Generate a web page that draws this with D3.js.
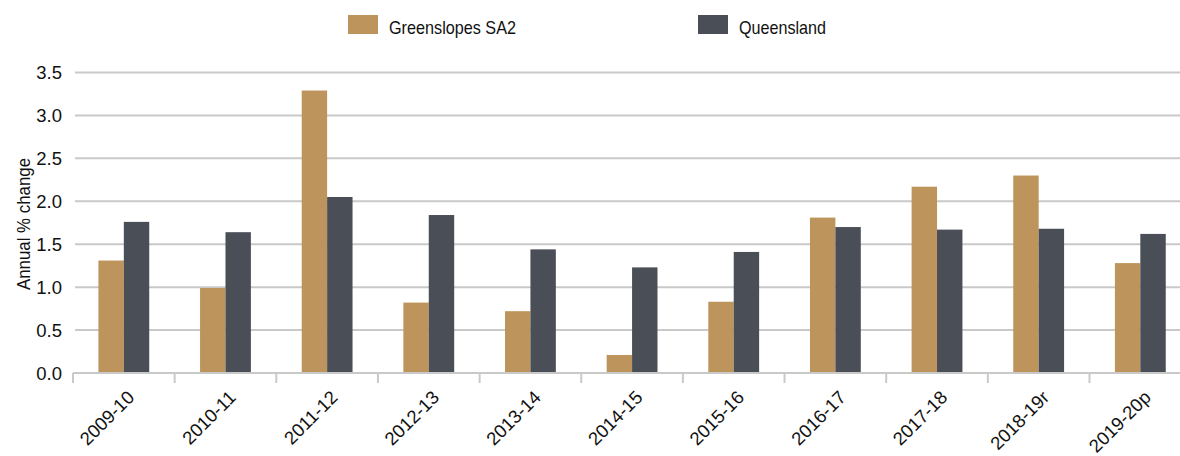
<!DOCTYPE html>
<html>
<head>
<meta charset="utf-8">
<script src="https://cdn.jsdelivr.net/npm/d3@7"></script>
<style>
  body { margin: 0; background: #fff; }
  text { font-family: "Liberation Sans", Arial, sans-serif; fill: #111; }
</style>
</head>
<body>
<script>
var years = ["2009-10", "2010-11", "2011-12", "2012-13", "2013-14", "2014-15",
             "2015-16", "2016-17", "2017-18", "2018-19r", "2019-20p"];
var seriesNames = ["Greenslopes SA2", "Queensland"];
var greenslopes = [1.31, 0.99, 3.29, 0.82, 0.72, 0.21, 0.83, 1.81, 2.17, 2.30, 1.28];
var queensland  = [1.76, 1.64, 2.05, 1.84, 1.44, 1.23, 1.41, 1.70, 1.67, 1.68, 1.62];
var yTicks = [0, 0.5, 1.0, 1.5, 2.0, 2.5, 3.0, 3.5];
var colors = ["#bd945b", "#4a4e56"];

var width = 1180, height = 456;
var plotLeft = 73, bandW = 101.65, plotTop = 72.5, plotBottom = 373;

var rows = years.map(function(y, i) { return {year: y, values: [greenslopes[i], queensland[i]]}; });

var svg = d3.select("body").append("svg")
    .attr("width", width)
    .attr("height", height);

var x = d3.scaleBand()
    .domain(years)
    .range([plotLeft, plotLeft + bandW * years.length])
    .padding(0);

var xInner = d3.scaleBand()
    .domain(seriesNames)
    .range([x.bandwidth() * 0.25, x.bandwidth() * 0.75])
    .padding(0);

var y = d3.scaleLinear()
    .domain([0, 3.5])
    .range([plotBottom, plotTop]);

// gridlines
svg.append("g")
  .selectAll("line")
  .data(yTicks)
  .enter().append("line")
    .attr("x1", plotLeft + 2)
    .attr("x2", width)
    .attr("y1", function(d) { return y(d); })
    .attr("y2", function(d) { return y(d); })
    .style("stroke", "#c9c9c9")
    .style("stroke-width", "2px");

// y axis labels
var yAxis = svg.append("g")
    .attr("transform", "translate(" + (plotLeft - 11) + ",0)")
    .call(d3.axisLeft(y).tickValues(yTicks).tickFormat(d3.format(".1f")).tickSize(0));
yAxis.select(".domain").remove();
yAxis.selectAll("text")
    .style("font-size", "18.5px")
    .style("font-family", "'Liberation Sans', Arial, sans-serif")
    .style("fill", "#111")
    .attr("dy", "0.35em")
    .attr("x", 0);

// bars
var group = svg.append("g")
  .selectAll("g")
  .data(rows)
  .enter().append("g")
    .attr("transform", function(d) { return "translate(" + x(d.year) + ",0)"; });

group.selectAll("rect")
  .data(function(d) { return d.values.map(function(v, i) { return {key: seriesNames[i], value: v, i: i}; }); })
  .enter().append("rect")
    .attr("x", function(d) { return xInner(d.key); })
    .attr("width", xInner.bandwidth())
    .attr("y", function(d) { return y(d.value); })
    .attr("height", function(d) { return plotBottom - y(d.value); })
    .style("fill", function(d) { return colors[d.i]; });

// x axis
var xAxis = svg.append("g")
    .attr("transform", "translate(0," + plotBottom + ")");
xAxis.append("line")
    .attr("x1", plotLeft)
    .attr("x2", width)
    .style("stroke", "#c9c9c9")
    .style("stroke-width", "2px");
xAxis.selectAll("line.tick")
  .data(years)
  .enter().append("line")
    .attr("class", "tick")
    .attr("x1", function(d) { return x(d); })
    .attr("x2", function(d) { return x(d); })
    .attr("y1", 0)
    .attr("y2", 10)
    .style("stroke", "#c9c9c9")
    .style("stroke-width", "2px");
xAxis.selectAll("text")
  .data(years)
  .enter().append("text")
    .attr("transform", function(d) {
      return "translate(" + (x(d) + x.bandwidth() / 2 + 7) + ",21) rotate(-45)";
    })
    .attr("text-anchor", "end")
    .attr("dy", "0.35em")
    .style("font-size", "18.5px")
    .text(function(d) { return d; });

// y title
svg.append("text")
    .attr("transform", "translate(30,224) rotate(-90)")
    .attr("text-anchor", "middle")
    .attr("textLength", 132)
    .attr("lengthAdjust", "spacingAndGlyphs")
    .style("font-size", "19px")
    .text("Annual % change");

// legend
var legendX = [348, 698];
var legendLen = [127, 87];
var legend = svg.append("g")
  .selectAll("g")
  .data(seriesNames)
  .enter().append("g")
    .attr("transform", function(d, i) { return "translate(" + legendX[i] + ",15)"; });
legend.append("rect")
    .attr("width", 30)
    .attr("height", 19)
    .style("fill", function(d, i) { return colors[i]; });
legend.append("text")
    .attr("x", 41)
    .attr("y", 12)
    .attr("dy", "0.35em")
    .attr("textLength", function(d, i) { return legendLen[i]; })
    .attr("lengthAdjust", "spacingAndGlyphs")
    .style("font-size", "19px")
    .text(function(d) { return d; });
</script>
</body>
</html>
